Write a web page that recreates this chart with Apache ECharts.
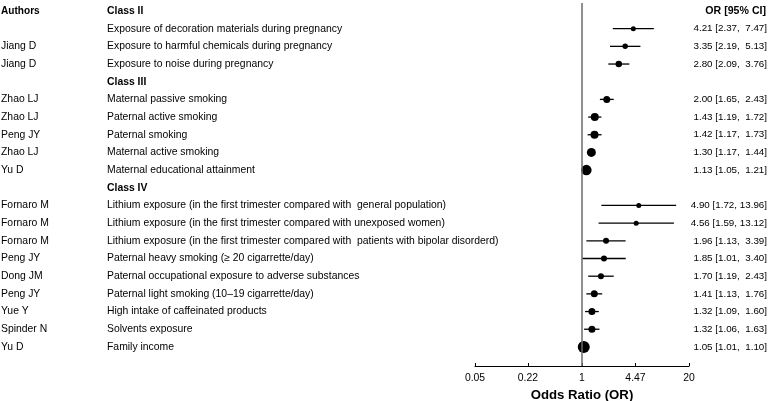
<!DOCTYPE html>
<html><head><meta charset="utf-8">
<script src="https://cdn.jsdelivr.net/npm/echarts@6/dist/echarts.min.js"></script>
<style>html,body{margin:0;padding:0;background:#fff}#c{width:780px;height:401px}</style>
</head><body><div id="c"></div>
<script>
// ---- data ----
const authors = ["", "", "Jiang D", "Jiang D", "", "Zhao LJ", "Zhao LJ", "Peng JY", "Zhao LJ", "Yu D", "",
  "Fornaro M", "Fornaro M", "Fornaro M", "Peng JY", "Dong JM", "Peng JY", "Yue Y", "Spinder N", "Yu D"];
const factors = ["Class II",
  "Exposure of decoration materials during pregnancy",
  "Exposure to harmful chemicals during pregnancy",
  "Exposure to noise during pregnancy",
  "Class III",
  "Maternal passive smoking",
  "Paternal active smoking",
  "Paternal smoking",
  "Maternal active smoking",
  "Maternal educational attainment",
  "Class IV",
  "Lithium exposure (in the first trimester compared with  general population)",
  "Lithium exposure (in the first trimester compared with unexposed women)",
  "Lithium exposure (in the first trimester compared with  patients with bipolar disorderd)",
  "Paternal heavy smoking (\u2265 20 cigarrette/day)",
  "Paternal occupational exposure to adverse substances",
  "Paternal light smoking (10\u201319 cigarrette/day)",
  "High intake of caffeinated products",
  "Solvents exposure",
  "Family income"];
const headerRows = [0, 4, 10];
const estimate = [null, 4.21, 3.35, 2.80, null, 2.00, 1.43, 1.42, 1.30, 1.13, null, 4.90, 4.56, 1.96, 1.85, 1.70, 1.41, 1.32, 1.32, 1.05];
const lower    = [null, 2.37, 2.19, 2.09, null, 1.65, 1.19, 1.17, 1.17, 1.05, null, 1.72, 1.59, 1.13, 1.01, 1.19, 1.13, 1.09, 1.06, 1.01];
const upper    = [null, 7.47, 5.13, 3.76, null, 2.43, 1.72, 1.73, 1.44, 1.21, null, 13.96, 13.12, 3.39, 3.40, 2.43, 1.76, 1.60, 1.63, 1.10];
const weight   = [null, 5, 5.5, 6.5, null, 7, 8, 8, 9, 10.5, null, 5, 5, 6, 6, 6, 7, 7, 7, 12];
const xTicks = [0.05, 0.22, 1, 4.47, 20];
const colHeaders = ["Authors", "OR [95% CI]"];

// ---- build ----
const nRows = factors.length;
const yMin = -0.4525, yMax = 20.08;
const FONT = '"Liberation Sans", Arial, Helvetica, sans-serif';
const FS = 10.4;

function fmtCI(i) {
  const u = upper[i].toFixed(2);
  const pad = u.length < 5 ? '  ' : ' ';
  return estimate[i].toFixed(2) + ' [' + lower[i].toFixed(2) + ',' + pad + u + ']';
}

const ciData = [];
for (let i = 0; i < nRows; i++) {
  if (estimate[i] != null) ciData.push([lower[i], upper[i], estimate[i], i, weight[i]]);
}

const textItems = [];
textItems.push({x: 1, row: 0, text: colHeaders[0], bold: true, align: 'left', size: 10.1});
textItems.push({x: 766, row: 0, text: colHeaders[1], bold: true, align: 'right', size: 10.6});
for (let i = 0; i < nRows; i++) {
  if (authors[i]) textItems.push({x: 1, row: i, text: authors[i], bold: false, align: 'left', size: FS});
  textItems.push({x: 107, row: i, text: factors[i], bold: headerRows.includes(i), align: 'left', size: FS});
  if (estimate[i] != null) textItems.push({x: 767, row: i, text: fmtCI(i), bold: false, align: 'right', size: 9.8});
}

const chart = echarts.init(document.getElementById('c'), null, {renderer: 'canvas'});
chart.setOption({
  animation: false,
  backgroundColor: '#fff',
  grid: [
    {left: 475, right: 91, top: 3, bottom: 35, containLabel: false, outerBoundsMode: 'none'},
    {left: 0, right: 0, top: 3, bottom: 35, containLabel: false, outerBoundsMode: 'none'}
  ],
  xAxis: [
    {
      gridIndex: 0, type: 'log', logBase: 10, min: 0.05, max: 20, position: 'bottom',
      axisLine: {show: true, onZero: false, lineStyle: {color: '#000', width: 1}},
      axisTick: {show: true, inside: true, length: 3, lineStyle: {color: '#000', width: 1}, customValues: xTicks},
      axisLabel: {show: true, customValues: xTicks, margin: 7.5, color: '#000', fontSize: FS, fontFamily: FONT,
        formatter: v => String(v)},
      splitLine: {show: false},
      name: 'Odds Ratio (OR)', nameLocation: 'middle', nameGap: 21.5,
      nameTextStyle: {fontWeight: 'bold', fontSize: 13.2, color: '#000', fontFamily: FONT}
    },
    {gridIndex: 1, type: 'value', min: 0, max: 780, show: false}
  ],
  yAxis: [
    {gridIndex: 0, type: 'value', min: yMin, max: yMax, inverse: true, show: false},
    {gridIndex: 1, type: 'value', min: yMin, max: yMax, inverse: true, show: false}
  ],
  series: [
    {
      type: 'custom', xAxisIndex: 0, yAxisIndex: 0, data: ciData, clip: false,
      renderItem: function (params, api) {
        const a = api.coord([api.value(0), api.value(3)]);
        const b = api.coord([api.value(1), api.value(3)]);
        const c = api.coord([api.value(2), api.value(3)]);
        const r = api.value(4) / 2;
        return {type: 'group', children: [
          {type: 'line', shape: {x1: a[0], y1: a[1], x2: b[0], y2: b[1]}, style: {stroke: '#000', lineWidth: 1.3}},
          {type: 'circle', shape: {cx: c[0], cy: c[1], r: r}, style: {fill: '#000'}}
        ]};
      },
      markLine: {
        symbol: 'none', silent: true, label: {show: false},
        lineStyle: {color: '#6b6b6b', width: 1.5, type: 'solid'},
        data: [{xAxis: 1}]
      },
      z: 3
    },
    {
      type: 'custom', xAxisIndex: 1, yAxisIndex: 1,
      data: textItems.map(t => [t.x, t.row]),
      renderItem: function (params, api) {
        const t = textItems[params.dataIndex];
        const p = api.coord([api.value(0), api.value(1)]);
        return {type: 'text', x: p[0], y: p[1], style: {
          text: t.text, fill: '#000', align: t.align, verticalAlign: 'middle',
          font: (t.bold ? 'bold ' : '') + t.size + 'px ' + FONT
        }};
      }
    }
  ]
});
</script></body></html>
